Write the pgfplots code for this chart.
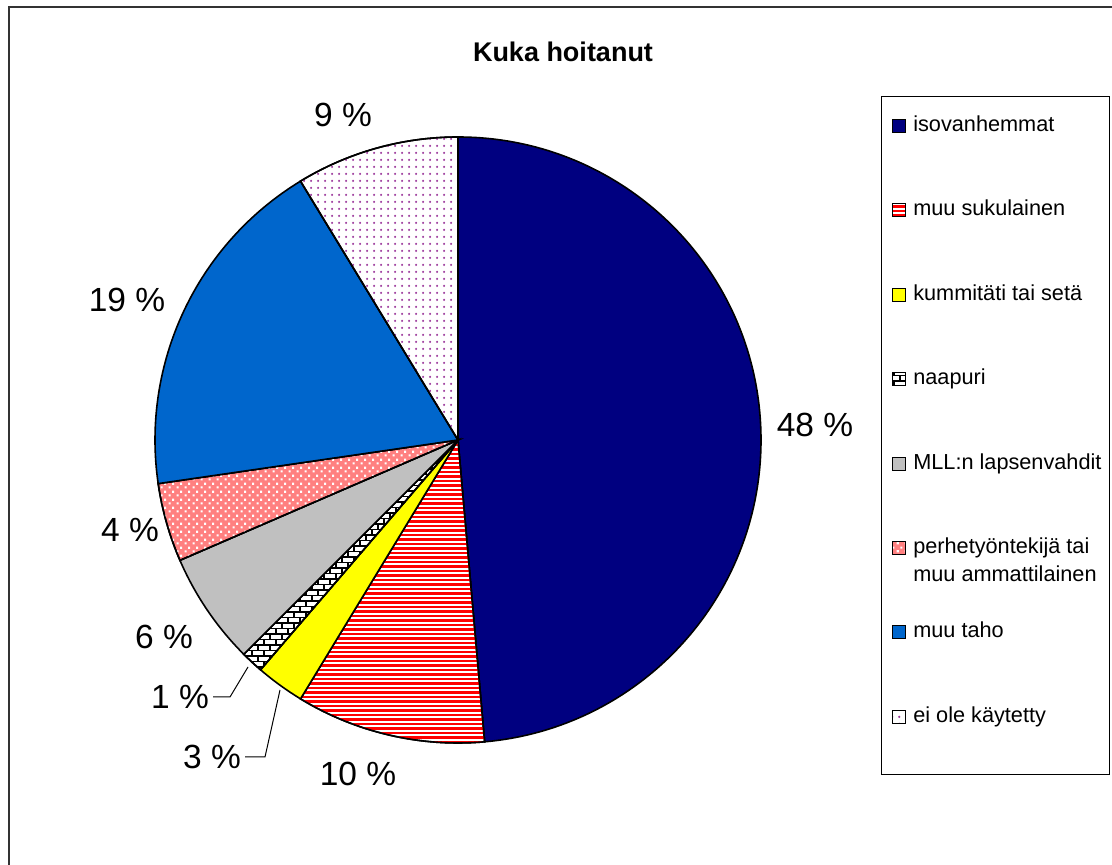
\documentclass[border=0pt]{standalone}
\usepackage{pgfplots}
\pgfplotsset{compat=1.18}
\usepackage{pgfplotstable}
\usepackage{fontspec}
\setmainfont{Liberation Sans}
\usetikzlibrary{patterns,patterns.meta}

\definecolor{navyA}{HTML}{000080}
\definecolor{yellowA}{HTML}{FFFF00}
\definecolor{grayA}{HTML}{C0C0C0}
\definecolor{pinkA}{HTML}{FF8080}
\definecolor{blueA}{HTML}{0066CC}
\definecolor{purpleA}{HTML}{993399}

\pgfdeclarepattern{
  name=hstripes, type=uncolored,
  bottom left={\pgfpoint{-1pt}{0pt}}, top right={\pgfpoint{25pt}{4.5pt}},
  tile size={\pgfpoint{24pt}{4.5pt}},
  code={\pgfpathrectangle{\pgfpoint{-1pt}{0pt}}{\pgfpoint{26pt}{2.5pt}}\pgfusepath{fill}}
}
\pgfdeclarepattern{
  name=smallbricks, type=uncolored,
  bottom left={\pgfpoint{-1pt}{-1pt}}, top right={\pgfpoint{13pt}{12pt}},
  tile size={\pgfpoint{12pt}{11pt}},
  code={\pgfsetlinewidth{1.3pt}
    \pgfpathmoveto{\pgfpoint{-1pt}{0pt}}\pgfpathlineto{\pgfpoint{13pt}{0pt}}
    \pgfpathmoveto{\pgfpoint{-1pt}{5.5pt}}\pgfpathlineto{\pgfpoint{13pt}{5.5pt}}
    \pgfpathmoveto{\pgfpoint{0pt}{0pt}}\pgfpathlineto{\pgfpoint{0pt}{5.5pt}}
    \pgfpathmoveto{\pgfpoint{6pt}{5.5pt}}\pgfpathlineto{\pgfpoint{6pt}{11pt}}
    \pgfusepath{stroke}}
}
\pgfdeclarepattern{
  name=checkdots, type=uncolored,
  bottom left={\pgfpointorigin}, top right={\pgfpoint{8pt}{8pt}},
  tile size={\pgfpoint{8pt}{8pt}},
  code={\pgfpathrectangle{\pgfpoint{0.6pt}{0.6pt}}{\pgfpoint{2.4pt}{2.4pt}}
        \pgfpathrectangle{\pgfpoint{4.6pt}{4.6pt}}{\pgfpoint{2.4pt}{2.4pt}}\pgfusepath{fill}}
}
\pgfdeclarepattern{
  name=sparsedots, type=uncolored,
  bottom left={\pgfpointorigin}, top right={\pgfpoint{7pt}{6.6pt}},
  tile size={\pgfpoint{7pt}{6.6pt}},
  code={\pgfpathcircle{\pgfpoint{3.5pt}{3.3pt}}{1.3pt}\pgfusepath{fill}}
}

% shares of the pie (percent), in drawing order (clockwise from 12 o'clock)
\pgfplotstableread{
share
48.6
10.1
2.6
1.2
6.0
4.2
18.6
8.7
}\piedata

\newcommand\nextangle[3]{% #1 = row, #2 = previous angle macro, #3 = new macro
  \pgfplotstablegetelem{#1}{share}\of\piedata
  \pgfmathsetmacro#3{#2-3.6*\pgfplotsretval}}
\pgfmathsetmacro\pa{90}
\nextangle{0}{\pa}{\pb}
\nextangle{1}{\pb}{\pc}
\nextangle{2}{\pc}{\pd}
\nextangle{3}{\pd}{\pe}
\nextangle{4}{\pe}{\pf}
\nextangle{5}{\pf}{\pg}
\nextangle{6}{\pg}{\ph}
\nextangle{7}{\ph}{\pi}

\def\cx{458}\def\cy{425}\def\R{303pt}

\begin{document}
\begin{tikzpicture}
\useasboundingbox (0,0) rectangle (1112pt,865pt);
\draw[line width=2pt, black!80] (9pt,-5pt) -- (9pt,858pt) -- (1125pt,858pt);
\begin{axis}[
  x=1pt, y=1pt, xmin=0, xmax=1112, ymin=0, ymax=865,
  hide axis, clip=false,
  legend image code/.code={\path (0pt,0pt); \draw[#1, line width=1pt] (3pt,-1pt) rectangle (16pt,12pt);},
  legend style={at={(0.79227,0.88902)}, anchor=north west,
    draw=black, line width=1pt, inner xsep=7.5pt, inner ysep=3pt,
    font=\fontsize{21.7}{28}\selectfont,
    row sep=3.4pt, column sep=7pt,
    nodes={inner xsep=0pt, inner ysep=0pt, text height=32pt, text depth=49pt},
    cells={anchor=base west}},
  pie/.style={draw=black, line width=1.6pt},
]
\addplot[pie, fill=navyA] coordinates {(\cx,\cy)} -- ++(\pa:\R) arc[start angle=\pa, end angle=\pb, radius=\R] -- cycle;
\addlegendentry{isovanhemmat}
\addplot[pie, fill=white, postaction={pattern=hstripes, pattern color=red}] coordinates {(\cx,\cy)} -- ++(\pb:\R) arc[start angle=\pb, end angle=\pc, radius=\R] -- cycle;
\addlegendentry{muu sukulainen}
\addplot[pie, fill=yellowA] coordinates {(\cx,\cy)} -- ++(\pc:\R) arc[start angle=\pc, end angle=\pd, radius=\R] -- cycle;
\addlegendentry{kummitäti tai setä}
\addplot[pie, fill=white, postaction={pattern=smallbricks, pattern color=black}] coordinates {(\cx,\cy)} -- ++(\pd:\R) arc[start angle=\pd, end angle=\pe, radius=\R] -- cycle;
\addlegendentry{naapuri}
\addplot[pie, fill=grayA] coordinates {(\cx,\cy)} -- ++(\pe:\R) arc[start angle=\pe, end angle=\pf, radius=\R] -- cycle;
\addlegendentry{MLL:n lapsenvahdit}
\addplot[pie, fill=pinkA, postaction={pattern=checkdots, pattern color=white}] coordinates {(\cx,\cy)} -- ++(\pf:\R) arc[start angle=\pf, end angle=\pg, radius=\R] -- cycle;
\addlegendentry{\begin{tabular}[t]{@{}l@{}}perhetyöntekijä tai\\muu ammattilainen\end{tabular}}
\addplot[pie, fill=blueA] coordinates {(\cx,\cy)} -- ++(\pg:\R) arc[start angle=\pg, end angle=\ph, radius=\R] -- cycle;
\addlegendentry{muu taho}
\addplot[pie, fill=white, postaction={pattern=sparsedots, pattern color=purpleA}] coordinates {(\cx,\cy)} -- ++(\ph:\R) arc[start angle=\ph, end angle=\pi, radius=\R] -- cycle;
\addlegendentry{ei ole käytetty}

% title
\node[anchor=base, font=\fontsize{27}{32}\selectfont\bfseries] at (axis cs:563,803) {Kuka hoitanut};
% data labels
\begin{scope}[every node/.style={anchor=base, font=\fontsize{33.5}{40}\selectfont, inner sep=0pt}]
\node at (axis cs:343,738) {9 \%};
\node at (axis cs:815,428) {48 \%};
\node at (axis cs:127,553) {19 \%};
\node at (axis cs:130,323) {4 \%};
\node at (axis cs:164,216) {6 \%};
\node at (axis cs:180,156) {1 \%};
\node at (axis cs:212,96) {3 \%};
\node at (axis cs:358,79) {10 \%};
\end{scope}
% leader lines
\draw[line width=1pt] (axis cs:213,168) -- (axis cs:230,168) -- (axis cs:248,198);
\draw[line width=1pt] (axis cs:245,108) -- (axis cs:265,108) -- (axis cs:280,175);
\end{axis}
\end{tikzpicture}
\end{document}
